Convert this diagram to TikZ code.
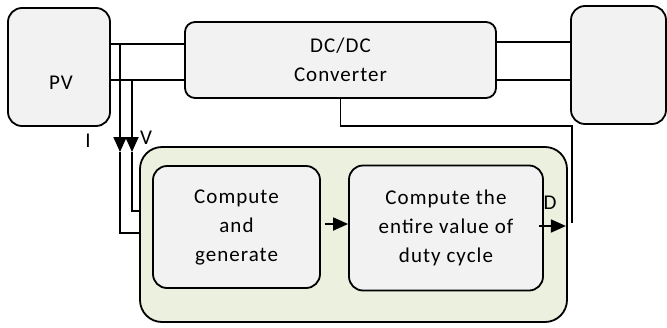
\documentclass[tikz,border=0pt]{standalone}
\usepackage{fontspec}
\setmainfont{Carlito}[LetterSpace=5.0]
\usepackage{tikz}
\usetikzlibrary{calc, positioning}
\usetikzlibrary{arrows.meta}
\usepackage{xcolor}
\definecolor{boxgrey}{HTML}{F2F2F2}
\definecolor{ctrlgreen}{HTML}{EBF1DE}

\begin{document}
\begin{tikzpicture}[x=1pt, y=-1pt, line width=1.8pt,
		every node/.style={font=\fontsize{21}{29}\selectfont},
		sig/.style={-{Triangle[length=15pt,width=13pt]}},
		blk/.style={draw, fill=boxgrey, rounded corners=14pt, align=center, inner sep=0pt},
		ctrl/.style={draw, fill=ctrlgreen, rounded corners=22pt}]
		\useasboundingbox (0,0) rectangle (667,327);
		% power stage
		\node[blk, minimum width=102pt, minimum height=118pt] (pv) at (59,67) {};
		\node (pvtext) at (61,83) {PV};
		\node[blk, rounded corners=10pt, minimum width=311pt, minimum height=76pt] (conv) at (340.5,60) {DC/DC\\Converter};
		\node[blk, minimum width=95pt, minimum height=118pt] (load) at (618.5,65) {};
		% controller
		\node[ctrl, minimum width=427pt, minimum height=175pt] (mppt) at (353.5,234.5) {};
		\node[blk, minimum width=167pt, minimum height=122pt] (gen) at (236.5,227) {Compute\\and\\generate};
		\node[blk, minimum width=194pt, minimum height=125pt] (duty) at (446,228) {Compute the\\entire value of\\duty cycle};
		\coordinate (rowI) at (0,44);
		\coordinate (rowV) at (0,80);
		\coordinate (rowR) at (0,42);
		\draw (pv.east |- rowI) -- (conv.west |- rowI);
		\draw (pv.east |- rowV) -- (conv.west |- rowV);
		\draw (conv.east |- rowR) -- (load.west |- rowR);
		\draw (conv.east |- rowV) -- (load.west |- rowV);
		% measured I and V
		\coordinate (tapI) at (120,44);
		\coordinate (tapV) at (132,80);
		\coordinate (inI) at (0,233);
		\coordinate (inV) at (0,211);
		\draw[sig] (tapI) -- (120,152) coordinate (headI);
		\draw[sig] (tapV) -- (132,152) coordinate (headV);
		\draw (headI) |- (mppt.west |- inI);
		\draw (headV) |- (mppt.west |- inV);
		\node (lblI) at (88,141) {I};
		\node (lblV) at (146,138) {V};
		\coordinate (midrow) at (0,224);
		\draw[sig] ($(gen.east |- midrow)+(4,0)$) -- (duty.west |- midrow);
		% duty cycle back to the converter
		\coordinate (drow) at (0,226);
		\coordinate (dend) at (572,223);
		\draw[sig] ($(duty.east |- drow)+(-5,0)$) -- ($(mppt.east |- drow)+(-2,0)$);
		\node (lblD) at (550,203) {D};
		\draw (conv.south) -- ++(0,27) -| (dend);
	\end{tikzpicture}
\end{document}
